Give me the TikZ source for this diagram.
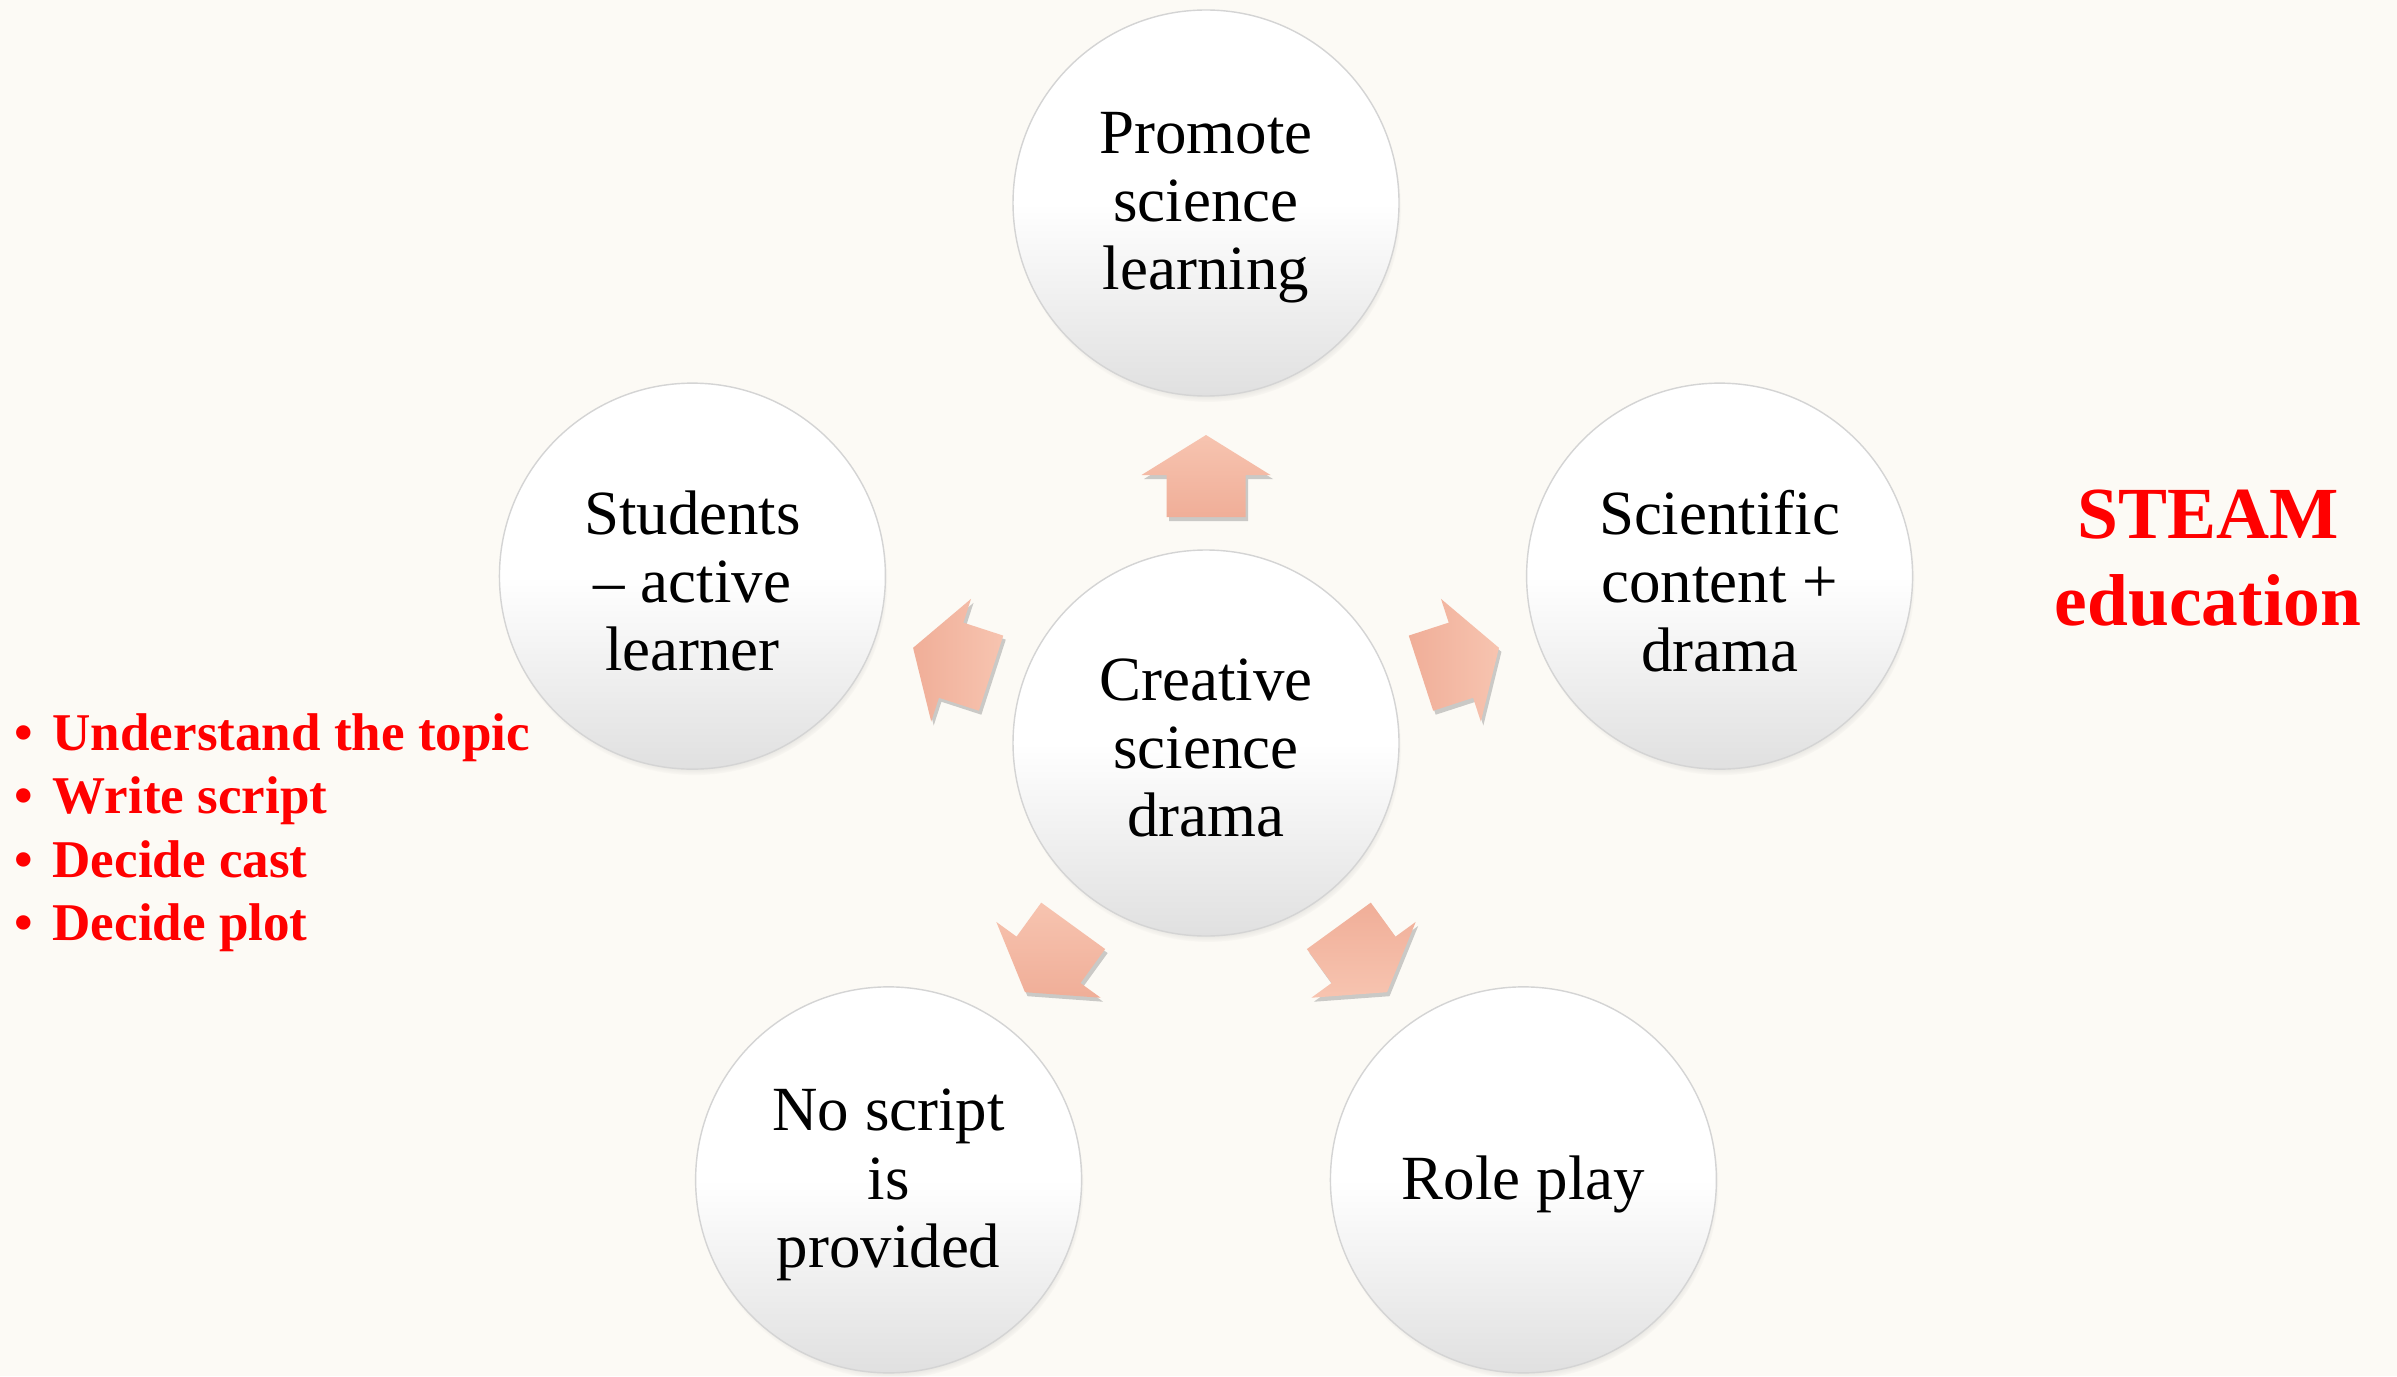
\documentclass[tikz,border=0pt]{standalone}
\usepackage{fontspec}
\setmainfont{Liberation Serif}
\usetikzlibrary{calc,shadows}
\definecolor{bg}{RGB}{252,250,245}
\definecolor{arrowlight}{RGB}{247,196,176}
\definecolor{arrowdark}{RGB}{240,174,152}
\definecolor{bubblebottom}{RGB}{224,224,224}
\definecolor{bubbleedge}{RGB}{212,212,212}
\definecolor{steamred}{RGB}{255,0,0}
\begin{document}
\begin{tikzpicture}[
  bubble/.style={circle, minimum size=3.86cm, inner sep=0pt, draw=bubbleedge, line width=0.4pt,
    top color=white, bottom color=bubblebottom, middle color=white,
    circular drop shadow={shadow xshift=0.02cm, shadow yshift=-0.06cm, shadow scale=1.0, opacity=0.6},
    align=center, font=\fontsize{17.9}{19.4}\selectfont},
  bubbletext/.style={inner sep=0pt, align=center, font=\fontsize{17.9}{19.4}\selectfont},
  blockarrow/.style={draw=none, drop shadow={shadow xshift=0.025cm, shadow yshift=-0.04cm, opacity=0.4}},
  redlist/.style={anchor=base west, inner sep=0pt, text=steamred, font=\fontsize{15.1}{16}\selectfont\bfseries},
  steam/.style={anchor=base, inner sep=0pt, text=steamred, font=\fontsize{20.9}{24}\selectfont\bfseries}
]
\fill[bg] (0,0) rectangle (23.97,13.76);
\useasboundingbox (0,0) rectangle (23.97,13.76);

\node[bubble] (c) at (12.06,6.33) {};
\node[bubble] (p) at ($(c)+(90:5.4)$) {};
\node[bubble] (s) at ($(c)+(162:5.4)$) {};
\node[bubble] (sc) at ($(c)+(18:5.4)$) {};
\node[bubble] (n) at ($(c)+(234:5.4)$) {};
\node[bubble] (r) at ($(c)+(306:5.4)$) {};

\node[bubbletext] (ct) at ([yshift=-0.05cm]c.center) {Creative\\science\\drama};
\node[bubbletext] (pt) at ([yshift=-0.05cm]p.center) {Promote\\science\\learning};
\node[bubbletext] (st) at ([yshift=-0.05cm]s.center) {Students\\– active\\learner};
\node[bubbletext] (sct) at ([yshift=-0.05cm]sc.center) {Scientific\\content +\\drama};
\node[bubbletext] (nt) at ([yshift=-0.05cm]n.center) {No script\\is\\provided};
\node[bubbletext] (rt) at ([yshift=-0.05cm]r.center) {Role play};

\foreach \t/\a in {p/0, s/270, sc/270, n/0, r/180} {
  \coordinate (b0) at ($(c.center)!2.26cm!(\t.center)$);
  \coordinate (h0) at ($(c.center)!2.68cm!(\t.center)$);
  \coordinate (tip) at ($(c.center)!3.08cm!(\t.center)$);
  \path[blockarrow, left color=arrowlight, right color=arrowdark, shading angle=\a]
    ($(b0)!0.395cm!90:(tip)$) -- ($(h0)!0.395cm!90:(tip)$) -- ($(h0)!0.645cm!90:(tip)$)
    -- (tip) -- ($(h0)!0.645cm!-90:(tip)$) -- ($(h0)!0.395cm!-90:(tip)$)
    -- ($(b0)!0.395cm!-90:(tip)$) -- cycle;
}

\node[redlist] (l1) at (0.14,6.26) {\makebox[0.38cm][l]{•}Understand the topic};
\node[redlist] (l2) at (0.14,5.63) {\makebox[0.38cm][l]{•}Write script};
\node[redlist] (l3) at (0.14,4.99) {\makebox[0.38cm][l]{•}Decide cast};
\node[redlist] (l4) at (0.14,4.36) {\makebox[0.38cm][l]{•}Decide plot};

\node[steam] (st1) at (22.08,8.38) {STEAM};
\node[steam] (st2) at (22.08,7.51) {education};
\end{tikzpicture}
\end{document}
